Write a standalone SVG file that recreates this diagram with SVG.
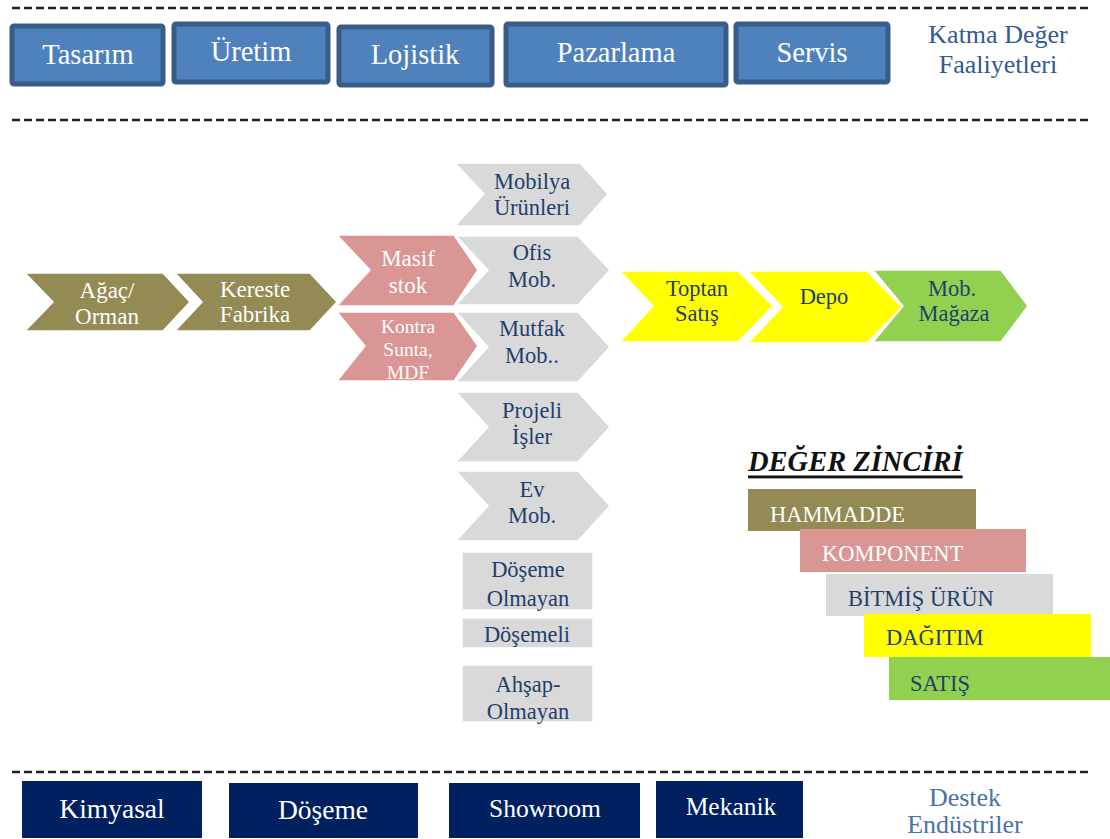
<svg xmlns="http://www.w3.org/2000/svg" width="1110" height="839" viewBox="0 0 1110 839" font-family="'Liberation Serif', serif">
<style>
text{font-family:"Liberation Serif",serif;text-anchor:middle;dominant-baseline:central}
.dash{stroke:#222;stroke-width:2.5;stroke-dasharray:8 4;fill:none}
.top rect{fill:#4f81bd;stroke:#385d8a;stroke-width:5}
.top text{fill:#fff;font-size:28.5px}
.bot rect{fill:#002060}
.bot text{fill:#fff;font-size:27.5px}
.olive{fill:#948a54;stroke:#fff;stroke-width:1.5}
.pink{fill:#d99694;stroke:#fff;stroke-width:1.5}
.gray{fill:#d9d9d9;stroke:#fff;stroke-width:1.5}
.yel{fill:#ffff00;stroke:#fff;stroke-width:1.5}
.grn{fill:#92d050;stroke:#fff;stroke-width:1.5}
.wt{fill:#fff;font-size:23px}
.bt{fill:#1f3f6e;font-size:22.5px}
.lg{font-size:22.5px;text-anchor:start}
.side{fill:#2f5b8f;font-size:26px}
</style>
<g id="dashes">
<line class="dash" x1="12" y1="8" x2="1088" y2="8"/>
<line class="dash" x1="12" y1="120" x2="1088" y2="120"/>
<line class="dash" x1="12" y1="772" x2="1088" y2="772"/>
</g>
<g class="top">
<g id="tasarim"><rect x="12" y="26" width="151" height="58" rx="2"/><text x="88" y="54">Tasarım</text></g>
<g id="uretim"><rect x="174" y="24" width="154" height="58" rx="2"/><text x="251" y="51">Üretim</text></g>
<g id="lojistik"><rect x="339" y="27" width="153" height="58" rx="2"/><text x="415" y="54">Lojistik</text></g>
<g id="pazarlama"><rect x="506" y="24" width="220" height="61" rx="2"/><text x="616" y="52">Pazarlama</text></g>
<g id="servis"><rect x="736" y="24" width="152" height="58" rx="2"/><text x="812" y="52">Servis</text></g>
</g>
<g id="katma"><text class="side" x="998" y="34">Katma Değer</text><text class="side" x="998" y="64">Faaliyetleri</text></g>

<g id="agac"><polygon class="olive" points="25,273 163,273 190,302 163,331 25,331 53,302"/><text class="wt" x="107" y="290">Ağaç/</text><text class="wt" x="107" y="316">Orman</text></g>
<g id="kereste"><polygon class="olive" points="175,273 310,273 337,302 310,331 175,331 202,302"/><text class="wt" x="255" y="289">Kereste</text><text class="wt" x="255" y="314">Fabrika</text></g>
<g id="masif"><polygon class="pink" points="337,235 454,235 478,270 454,306 337,306 370,270"/><text class="wt" x="408" y="258">Masif</text><text class="wt" x="408" y="285">stok</text></g>
<g id="kontra"><polygon class="pink" points="337,312 454,312 478,346 454,381 337,381 365,346"/><text class="wt" x="408" y="326" style="font-size:19.5px">Kontra</text><text class="wt" x="408" y="349" style="font-size:19.5px">Sunta,</text><text class="wt" x="408" y="372" style="font-size:19.5px">MDF</text></g>

<g id="mobilya"><polygon class="gray" points="455,163 580,163 608,194 580,226 455,226 484,194"/><text class="bt" x="532" y="181">Mobilya</text><text class="bt" x="532" y="207">Ürünleri</text></g>
<g id="ofis"><polygon class="gray" points="456,236 578,236 610,270 578,305 456,305 488,270"/><text class="bt" x="532" y="252">Ofis</text><text class="bt" x="532" y="279">Mob.</text></g>
<g id="mutfak"><polygon class="gray" points="456,312 578,312 610,347 578,382 456,382 488,347"/><text class="bt" x="532" y="328">Mutfak</text><text class="bt" x="532" y="355">Mob..</text></g>
<g id="projeli"><polygon class="gray" points="456,392 578,392 610,427 578,462 456,462 488,427"/><text class="bt" x="532" y="410">Projeli</text><text class="bt" x="532" y="436">İşler</text></g>
<g id="ev"><polygon class="gray" points="456,471 578,471 610,506 578,541 456,541 488,506"/><text class="bt" x="532" y="489">Ev</text><text class="bt" x="532" y="515">Mob.</text></g>

<g id="doseme-olmayan"><rect class="gray" x="462" y="552" width="131" height="58" stroke="none"/><text class="bt" x="528" y="569">Döşeme</text><text class="bt" x="528" y="598">Olmayan</text></g>
<g id="dosemeli"><rect class="gray" x="462" y="618" width="131" height="30" stroke="none"/><text class="bt" x="527" y="634">Döşemeli</text></g>
<g id="ahsap"><rect class="gray" x="462" y="665" width="131" height="57" stroke="none"/><text class="bt" x="528" y="684">Ahşap-</text><text class="bt" x="528" y="711">Olmayan</text></g>

<g id="toptan"><polygon class="yel" points="620,271 738,271 773,306 738,342 620,342 653,306"/><text class="bt" x="697" y="288">Toptan</text><text class="bt" x="697" y="313">Satış</text></g>
<g id="depo"><polygon class="yel" points="748,271 867,271 902,307 867,343 748,343 782,307"/><text class="bt" x="824" y="296">Depo</text></g>
<g id="magaza"><polygon class="grn" points="873,270 1001,270 1028,306 1001,342 873,342 903,306"/><text class="bt" x="952" y="288">Mob.</text><text class="bt" x="954" y="313">Mağaza</text></g>

<g id="legend">
<text x="748" y="461" style="text-anchor:start;font-size:28.5px;font-weight:bold;font-style:italic;text-decoration:underline;fill:#111">DEĞER ZİNCİRİ</text>
<rect x="748" y="489" width="228" height="42" fill="#948a54"/><text class="lg" x="770" y="514" fill="#fff">HAMMADDE</text>
<rect x="800" y="529" width="226" height="43" fill="#d99694"/><text class="lg" x="822" y="553" fill="#fff">KOMPONENT</text>
<rect x="826" y="574" width="227" height="42" fill="#d9d9d9"/><text class="lg" x="848" y="598" fill="#1f3f6e">BİTMİŞ ÜRÜN</text>
<rect x="864" y="614" width="227" height="43" fill="#ffff00"/><text class="lg" x="886" y="637" fill="#1f3f6e">DAĞITIM</text>
<rect x="889" y="657" width="221" height="43" fill="#92d050"/><text class="lg" x="910" y="683" fill="#1f3f6e">SATIŞ</text>
</g>

<g class="bot">
<g id="kimyasal"><rect x="22" y="781" width="180" height="57"/><text x="112" y="808">Kimyasal</text></g>
<g id="doseme"><rect x="229" y="783" width="189" height="55"/><text x="323" y="809">Döşeme</text></g>
<g id="showroom"><rect x="449" y="783" width="191" height="55"/><text x="545" y="808" style="font-size:25.5px">Showroom</text></g>
<g id="mekanik"><rect x="656" y="781" width="147" height="57"/><text x="731" y="806" style="font-size:25.5px">Mekanik</text></g>
</g>
<g id="destek"><text class="side" x="965" y="797" style="fill:#4a72a8">Destek</text><text class="side" x="965" y="824" style="fill:#4a72a8">Endüstriler</text></g>
</svg>
